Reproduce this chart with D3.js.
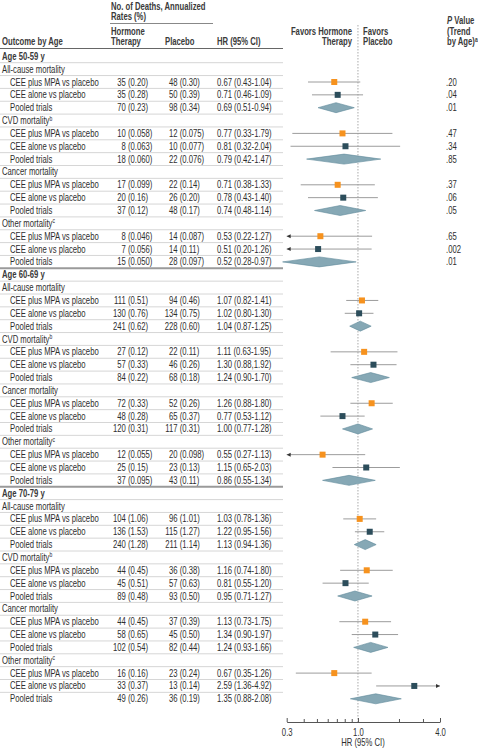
<!DOCTYPE html>
<html><head><meta charset="utf-8">
<script src="https://cdn.jsdelivr.net/npm/d3@7"></script>
<style>
body{margin:0;background:#fff}
svg{display:block}
text{font-family:"Liberation Sans Narrow","Liberation Sans",Arial,sans-serif;font-size:10px;fill:#2e2e2e}
.hd{font-weight:bold;fill:#3a3a3a}
</style>
</head><body><svg id="c" width="478" height="750"></svg>
<script>
// ---------------- DATA ----------------
const ageGroups = ["Age 50-59 y", "Age 60-69 y", "Age 70-79 y"];
const outcomes = ["All-cause mortality", "CVD mortality", "Cancer mortality", "Other mortality"];
const outcomeSup = ["", "b", "", "c"];
const comparisons = ["CEE plus MPA vs placebo", "CEE alone vs placebo", "Pooled trials"];

const hormoneText = [
  "35 (0.20)","35 (0.28)","70 (0.23)",
  "10 (0.058)","8 (0.063)","18 (0.060)",
  "17 (0.099)","20 (0.16)","37 (0.12)",
  "8 (0.046)","7 (0.056)","15 (0.050)",
  "111 (0.51)","130 (0.76)","241 (0.62)",
  "27 (0.12)","57 (0.33)","84 (0.22)",
  "72 (0.33)","48 (0.28)","120 (0.31)",
  "12 (0.055)","25 (0.15)","37 (0.095)",
  "104 (1.06)","136 (1.53)","240 (1.28)",
  "44 (0.45)","45 (0.51)","89 (0.48)",
  "44 (0.45)","58 (0.65)","102 (0.54)",
  "16 (0.16)","33 (0.37)","49 (0.26)"
];
const placeboText = [
  "48 (0.30)","50 (0.39)","98 (0.34)",
  "12 (0.075)","10 (0.077)","22 (0.076)",
  "22 (0.14)","26 (0.20)","48 (0.17)",
  "14 (0.087)","14 (0.11)","28 (0.097)",
  "94 (0.46)","134 (0.75)","228 (0.60)",
  "22 (0.11)","46 (0.26)","68 (0.18)",
  "52 (0.26)","65 (0.37)","117 (0.31)",
  "20 (0.098)","23 (0.13)","43 (0.11)",
  "96 (1.01)","115 (1.27)","211 (1.14)",
  "36 (0.38)","57 (0.63)","93 (0.50)",
  "37 (0.39)","45 (0.50)","82 (0.44)",
  "23 (0.24)","13 (0.14)","36 (0.19)"
];
const hr = [0.67,0.71,0.69, 0.77,0.81,0.79, 0.71,0.78,0.74, 0.53,0.51,0.52,
            1.07,1.02,1.04, 1.11,1.30,1.24, 1.26,0.77,1.00, 0.55,1.15,0.86,
            1.03,1.22,1.13, 1.16,0.81,0.95, 1.13,1.34,1.24, 0.67,2.59,1.35];
const lo = [0.43,0.46,0.51, 0.33,0.32,0.42, 0.38,0.43,0.48, 0.22,0.20,0.28,
            0.82,0.80,0.87, 0.63,0.88,0.90, 0.88,0.53,0.77, 0.27,0.65,0.55,
            0.78,0.95,0.94, 0.74,0.55,0.71, 0.73,0.90,0.93, 0.35,1.36,0.88];
const hi = [1.04,1.09,0.94, 1.79,2.04,1.47, 1.33,1.40,1.14, 1.27,1.26,0.97,
            1.41,1.30,1.25, 1.95,1.92,1.70, 1.80,1.12,1.28, 1.13,2.03,1.34,
            1.36,1.56,1.36, 1.80,1.20,1.27, 1.75,1.97,1.66, 1.26,4.92,2.08];
const hrLabels = [
  "0.67 (0.43-1.04)","0.71 (0.46-1.09)","0.69 (0.51-0.94)",
  "0.77 (0.33-1.79)","0.81 (0.32-2.04)","0.79 (0.42-1.47)",
  "0.71 (0.38-1.33)","0.78 (0.43-1.40)","0.74 (0.48-1.14)",
  "0.53 (0.22-1.27)","0.51 (0.20-1.26)","0.52 (0.28-0.97)",
  "1.07 (0.82-1.41)","1.02 (0.80-1.30)","1.04 (0.87-1.25)",
  "1.11 (0.63-1.95)","1.30 (0.88,1.92)","1.24 (0.90-1.70)",
  "1.26 (0.88-1.80)","0.77 (0.53-1.12)","1.00 (0.77-1.28)",
  "0.55 (0.27-1.13)","1.15 (0.65-2.03)","0.86 (0.55-1.34)",
  "1.03 (0.78-1.36)","1.22 (0.95-1.56)","1.13 (0.94-1.36)",
  "1.16 (0.74-1.80)","0.81 (0.55-1.20)","0.95 (0.71-1.27)",
  "1.13 (0.73-1.75)","1.34 (0.90-1.97)","1.24 (0.93-1.66)",
  "0.67 (0.35-1.26)","2.59 (1.36-4.92)","1.35 (0.88-2.08)"
];
const pValues = [".20",".04",".01", ".47",".34",".85", ".37",".06",".05", ".65",".002",".01"];
const axisTicks = [0.3,0.4,0.5,0.6,0.7,0.8,0.9,1,2,3,4];
const axisLabels = [0.3,1,4];

// ---------------- LAYOUT ----------------
const svg = d3.select("#c");
const x = d3.scaleLog().domain([0.3, 4]).range([286.7, 440]);
const nRows = ageGroups.length * (1 + outcomes.length * (1 + comparisons.length));
const y = d3.scaleLinear().domain([0, nRows - 1]).range([56.3, 698.8]);
const base = 3.5;
const SX = 0.77; // horizontal condensing to mimic a narrow typeface
const colOrange = "#F6921E", colDark = "#2C4D5B", diaFill = "#86A8B5", diaStroke = "#60899A";

function txt(g, s, xx, yy, anchor, cls) {
  const t = g.append("text")
    .attr("transform", `translate(${xx},${yy}) scale(${SX},1)`)
    .attr("text-anchor", anchor || "start");
  if (cls) t.attr("class", cls);
  if (s !== null) t.text(s);
  return t;
}

// build rows
const rows = [];
let k = 0;
ageGroups.forEach((ag, a) => {
  rows.push({type: "age", label: ag, a});
  outcomes.forEach((oc, o) => {
    rows.push({type: "outcome", label: oc, sup: outcomeSup[o]});
    comparisons.forEach((cp, c) => {
      rows.push({type: "comp", label: cp, c, a, k: k++});
    });
  });
});
rows.forEach((r, i) => r.i = i);

// header
const H = svg.append("g");
txt(H, "No. of Deaths, Annualized", 111, 9.5, "start", "hd");
txt(H, "Rates (%)", 111, 20.3, "start", "hd");
H.append("line").attr("x1", 110).attr("x2", 213).attr("y1", 23.5).attr("y2", 23.5).attr("stroke", "#888");
txt(H, "Hormone", 111, 34.5, "start", "hd");
txt(H, "Therapy", 111, 45.2, "start", "hd");
txt(H, "Placebo", 165, 45.2, "start", "hd");
txt(H, "HR (95% CI)", 217, 45.2, "start", "hd");
txt(H, "Outcome by Age", 2, 45.2, "start", "hd");
txt(H, "Favors Hormone", 352, 34.5, "end", "hd");
txt(H, "Therapy", 352, 45.2, "end", "hd");
txt(H, "Favors", 363, 34.5, "start", "hd");
txt(H, "Placebo", 363, 45.2, "start", "hd");
const pv = txt(H, null, 447, 24, "start", "hd");
pv.append("tspan").attr("font-style", "italic").text("P");
pv.append("tspan").text(" Value");
txt(H, "(Trend", 447, 34.5, "start", "hd");
const pv3 = txt(H, "by Age)", 447, 45.2, "start", "hd");
pv3.append("tspan").attr("dy", -3.5).attr("font-size", "6.5px").text("a");
H.append("line").attr("x1", 0).attr("x2", 283).attr("y1", 48.5).attr("y2", 48.5).attr("stroke", "#666");

// row separators
rows.forEach(r => {
  if (r.i === nRows - 1) return;
  const last = r.type === "comp" && (r.k % 12 === 11);
  svg.append("line").attr("x1", 0).attr("x2", 283)
    .attr("y1", y(r.i) + 6.4).attr("y2", y(r.i) + 6.4)
    .attr("stroke", last ? "#9a9a9a" : "#d6d6d6").attr("stroke-width", last ? 2 : 1);
});

// reference line at 1.0
svg.append("line").attr("x1", x(1)).attr("x2", x(1)).attr("y1", 25).attr("y2", 722)
  .attr("stroke", "#aaa").attr("stroke-dasharray", "1.5,1.5");

// table text
const T = svg.append("g");
rows.forEach(r => {
  const yy = y(r.i) + base;
  if (r.type === "age") {
    txt(T, r.label, 2, yy, "start", "hd");
  } else if (r.type === "outcome") {
    const t = txt(T, r.label, 2, yy);
    if (r.sup) t.append("tspan").attr("dy", -3.5).attr("font-size", "6.5px").text(r.sup);
  } else {
    txt(T, r.label, 10, yy);
    const [hn, hrte] = hormoneText[r.k].split(" ");
    txt(T, hn, 125.8, yy, "end");
    txt(T, hrte, 128, yy);
    const [pn, prte] = placeboText[r.k].split(" ");
    txt(T, pn, 177.5, yy, "end");
    txt(T, prte, 179.7, yy);
    txt(T, hrLabels[r.k], 217, yy);
    if (r.a === 0) txt(T, pValues[r.k], 446, yy);
  }
});

// forest marks
const F = svg.append("g");
const [dmin, dmax] = x.domain();
rows.filter(r => r.type === "comp").forEach(r => {
  const cy = y(r.i);
  const v = hr[r.k], l = lo[r.k], h = hi[r.k];
  if (r.c === 2) {
    F.append("path")
      .attr("d", `M${x(l)},${cy}L${x(v)},${cy - 5}L${x(h)},${cy}L${x(v)},${cy + 5}Z`)
      .attr("fill", diaFill).attr("stroke", diaStroke).attr("stroke-width", 0.6);
  } else {
    const x1 = x(Math.max(l, dmin)), x2 = x(Math.min(h, dmax));
    F.append("line").attr("x1", x1).attr("x2", x2).attr("y1", cy).attr("y2", cy)
      .attr("stroke", "#9c9c9c").attr("stroke-width", 1);
    if (l < dmin) F.append("path").attr("d", `M${x1},${cy}L${x1 + 4},${cy - 2}L${x1 + 4},${cy + 2}Z`).attr("fill", "#333");
    if (h > dmax) F.append("path").attr("d", `M${x2},${cy}L${x2 - 4},${cy - 2}L${x2 - 4},${cy + 2}Z`).attr("fill", "#333");
    F.append("rect").attr("x", x(v) - 3).attr("y", cy - 3).attr("width", 6).attr("height", 6)
      .attr("fill", r.c === 0 ? colOrange : colDark);
  }
});

// axis
const ax = svg.append("g").attr("transform", "translate(0,722)")
  .call(d3.axisBottom(x).tickValues(axisTicks).tickSize(-3).tickSizeOuter(0).tickPadding(6.5)
    .tickFormat(d => axisLabels.includes(d) ? d3.format(".1f")(d) : ""));
ax.attr("font-family", null).attr("font-size", null);
ax.select(".domain").attr("stroke", "#555");
ax.selectAll(".tick line").attr("stroke", "#555").attr("y2", d => axisLabels.includes(d) ? -4 : -3);
ax.selectAll(".tick text").attr("fill", "#333").attr("transform", `scale(${SX},1)`);
txt(svg, "HR (95% CI)", x(1) + 5, 746, "middle");
</script>
</body></html>
